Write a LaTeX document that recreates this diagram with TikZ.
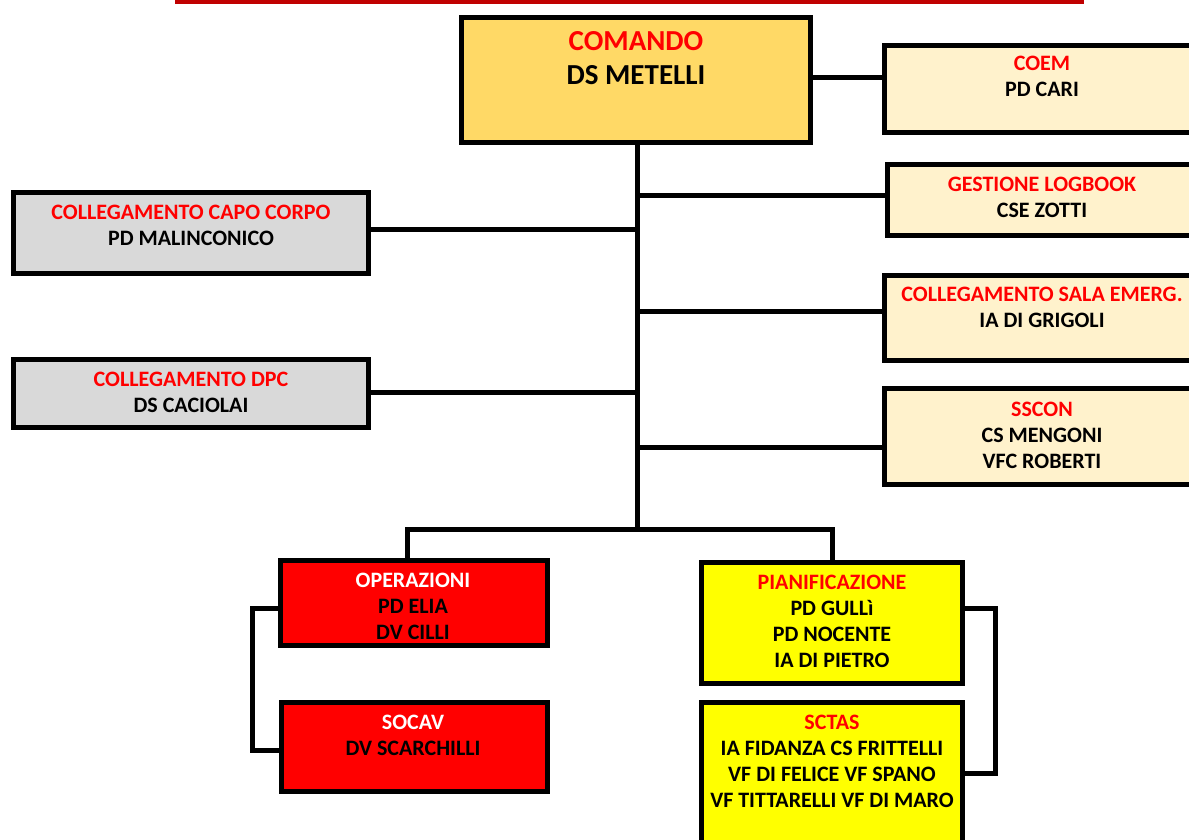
\documentclass[tikz,border=0pt]{standalone}
\usepackage{fontspec}
\setmainfont{Carlito}
\definecolor{gold}{HTML}{FFD966}
\definecolor{cream}{HTML}{FFF2CC}
\definecolor{greybox}{HTML}{D9D9D9}
\definecolor{redbox}{HTML}{FF0000}
\definecolor{yellowbox}{HTML}{FFFF00}
\definecolor{titlered}{HTML}{FF0000}
\definecolor{darkline}{HTML}{C00000}
\begin{document}
\begin{tikzpicture}[x=1pt,y=-1pt,
  box/.style={draw=black, rectangle, inner sep=0pt, line width=5pt},
  txt/.style={anchor=north, align=center, inner sep=0pt, font=\bfseries\fontsize{22}{26}\selectfont},
  bigtxt/.style={anchor=north, align=center, inner sep=0pt, font=\bfseries\fontsize{29}{34}\selectfont},
  conn/.style={draw=black, line width=5pt, line join=miter}]
\useasboundingbox (0,0) rectangle (1189,839);
\clip (0,0) rectangle (1189,839);
% top rule
\fill[darkline] (175,0) rectangle (1084,3.5);
% boxes
\node[box, fill=gold, minimum width=349pt, minimum height=125pt] (comando) at (636,80) {};
\node[box, fill=cream, minimum width=323pt, minimum height=87pt] (coem) at (1046,89) {};
\node[box, fill=cream, minimum width=320pt, minimum height=71pt] (logbook) at (1047.5,200) {};
\node[box, fill=cream, minimum width=323pt, minimum height=85pt] (sala) at (1046,318) {};
\node[box, fill=cream, minimum width=323pt, minimum height=96pt] (sscon) at (1046,436.5) {};
\node[box, fill=greybox, minimum width=355pt, minimum height=81pt] (capo) at (191,233) {};
\node[box, fill=greybox, minimum width=355pt, minimum height=68pt] (dpc) at (191,393.5) {};
\node[box, fill=redbox, minimum width=267pt, minimum height=85pt] (oper) at (414,603) {};
\node[box, fill=redbox, minimum width=266pt, minimum height=89pt] (socav) at (414.5,747) {};
\node[box, fill=yellowbox, minimum width=261pt, minimum height=121pt] (pian) at (832,623) {};
\node[box, fill=yellowbox, minimum width=261pt, minimum height=145pt] (sctas) at (832,775) {};
% texts
\node[bigtxt] (comandoT) at (636,31.5) {\textcolor{titlered}{COMANDO}\\DS METELLI};
\node[txt] (coemT) at (1042,56) {\textcolor{titlered}{COEM}\\PD CARI};
\node[txt] (logbookT) at (1042,176.5) {\textcolor{titlered}{GESTIONE LOGBOOK}\\CSE ZOTTI};
\node[txt] (salaT) at (1042,286.5) {\textcolor{titlered}{COLLEGAMENTO SALA EMERG.}\\IA DI GRIGOLI};
\node[txt] (ssconT) at (1042,401.5) {\textcolor{titlered}{SSCON}\\CS MENGONI\\VFC ROBERTI};
\node[txt] (capoT) at (191,204.5) {\textcolor{titlered}{COLLEGAMENTO CAPO CORPO}\\PD MALINCONICO};
\node[txt] (dpcT) at (191,371.5) {\textcolor{titlered}{COLLEGAMENTO DPC}\\DS CACIOLAI};
\node[txt] (operT) at (413,572.5) {\textcolor{white}{OPERAZIONI}\\PD ELIA\\DV CILLI};
\node[txt] (socavT) at (413,714.5) {\textcolor{white}{SOCAV}\\DV SCARCHILLI};
\node[txt] (pianT) at (832,574.5) {\textcolor{titlered}{PIANIFICAZIONE}\\PD GULLì\\PD NOCENTE\\IA DI PIETRO};
\node[txt] (sctasT) at (832,714.5) {\textcolor{titlered}{SCTAS}\\IA FIDANZA CS FRITTELLI\\VF DI FELICE VF SPANO\\VF TITTARELLI VF DI MARO};
% connectors
\coordinate (bus) at (637,529);
\draw[conn] (comando.east |- 0,77) -- (coem.west |- 0,77);
\draw[conn] (comando.south -| bus) -- (bus);
\draw[conn] (bus |- 0,195) -- (logbook.west |- 0,195);
\draw[conn] (capo.east |- 0,229) -- (bus |- 0,229);
\draw[conn] (bus |- 0,311) -- (sala.west |- 0,311);
\draw[conn] (dpc.east |- 0,392) -- (bus |- 0,392);
\draw[conn] (bus |- 0,447) -- (sscon.west |- 0,447);
\draw[conn] (oper.north -| 407,0) |- (bus) -| (pian.north);
\draw[conn] (oper.west |- 0,608) -- (252,608) -- (252,750) -- (socav.west |- 0,750);
\draw[conn] (pian.east |- 0,608) -- (995,608) -- (995,773) -- (sctas.east |- 0,773);
\end{tikzpicture}
\end{document}
